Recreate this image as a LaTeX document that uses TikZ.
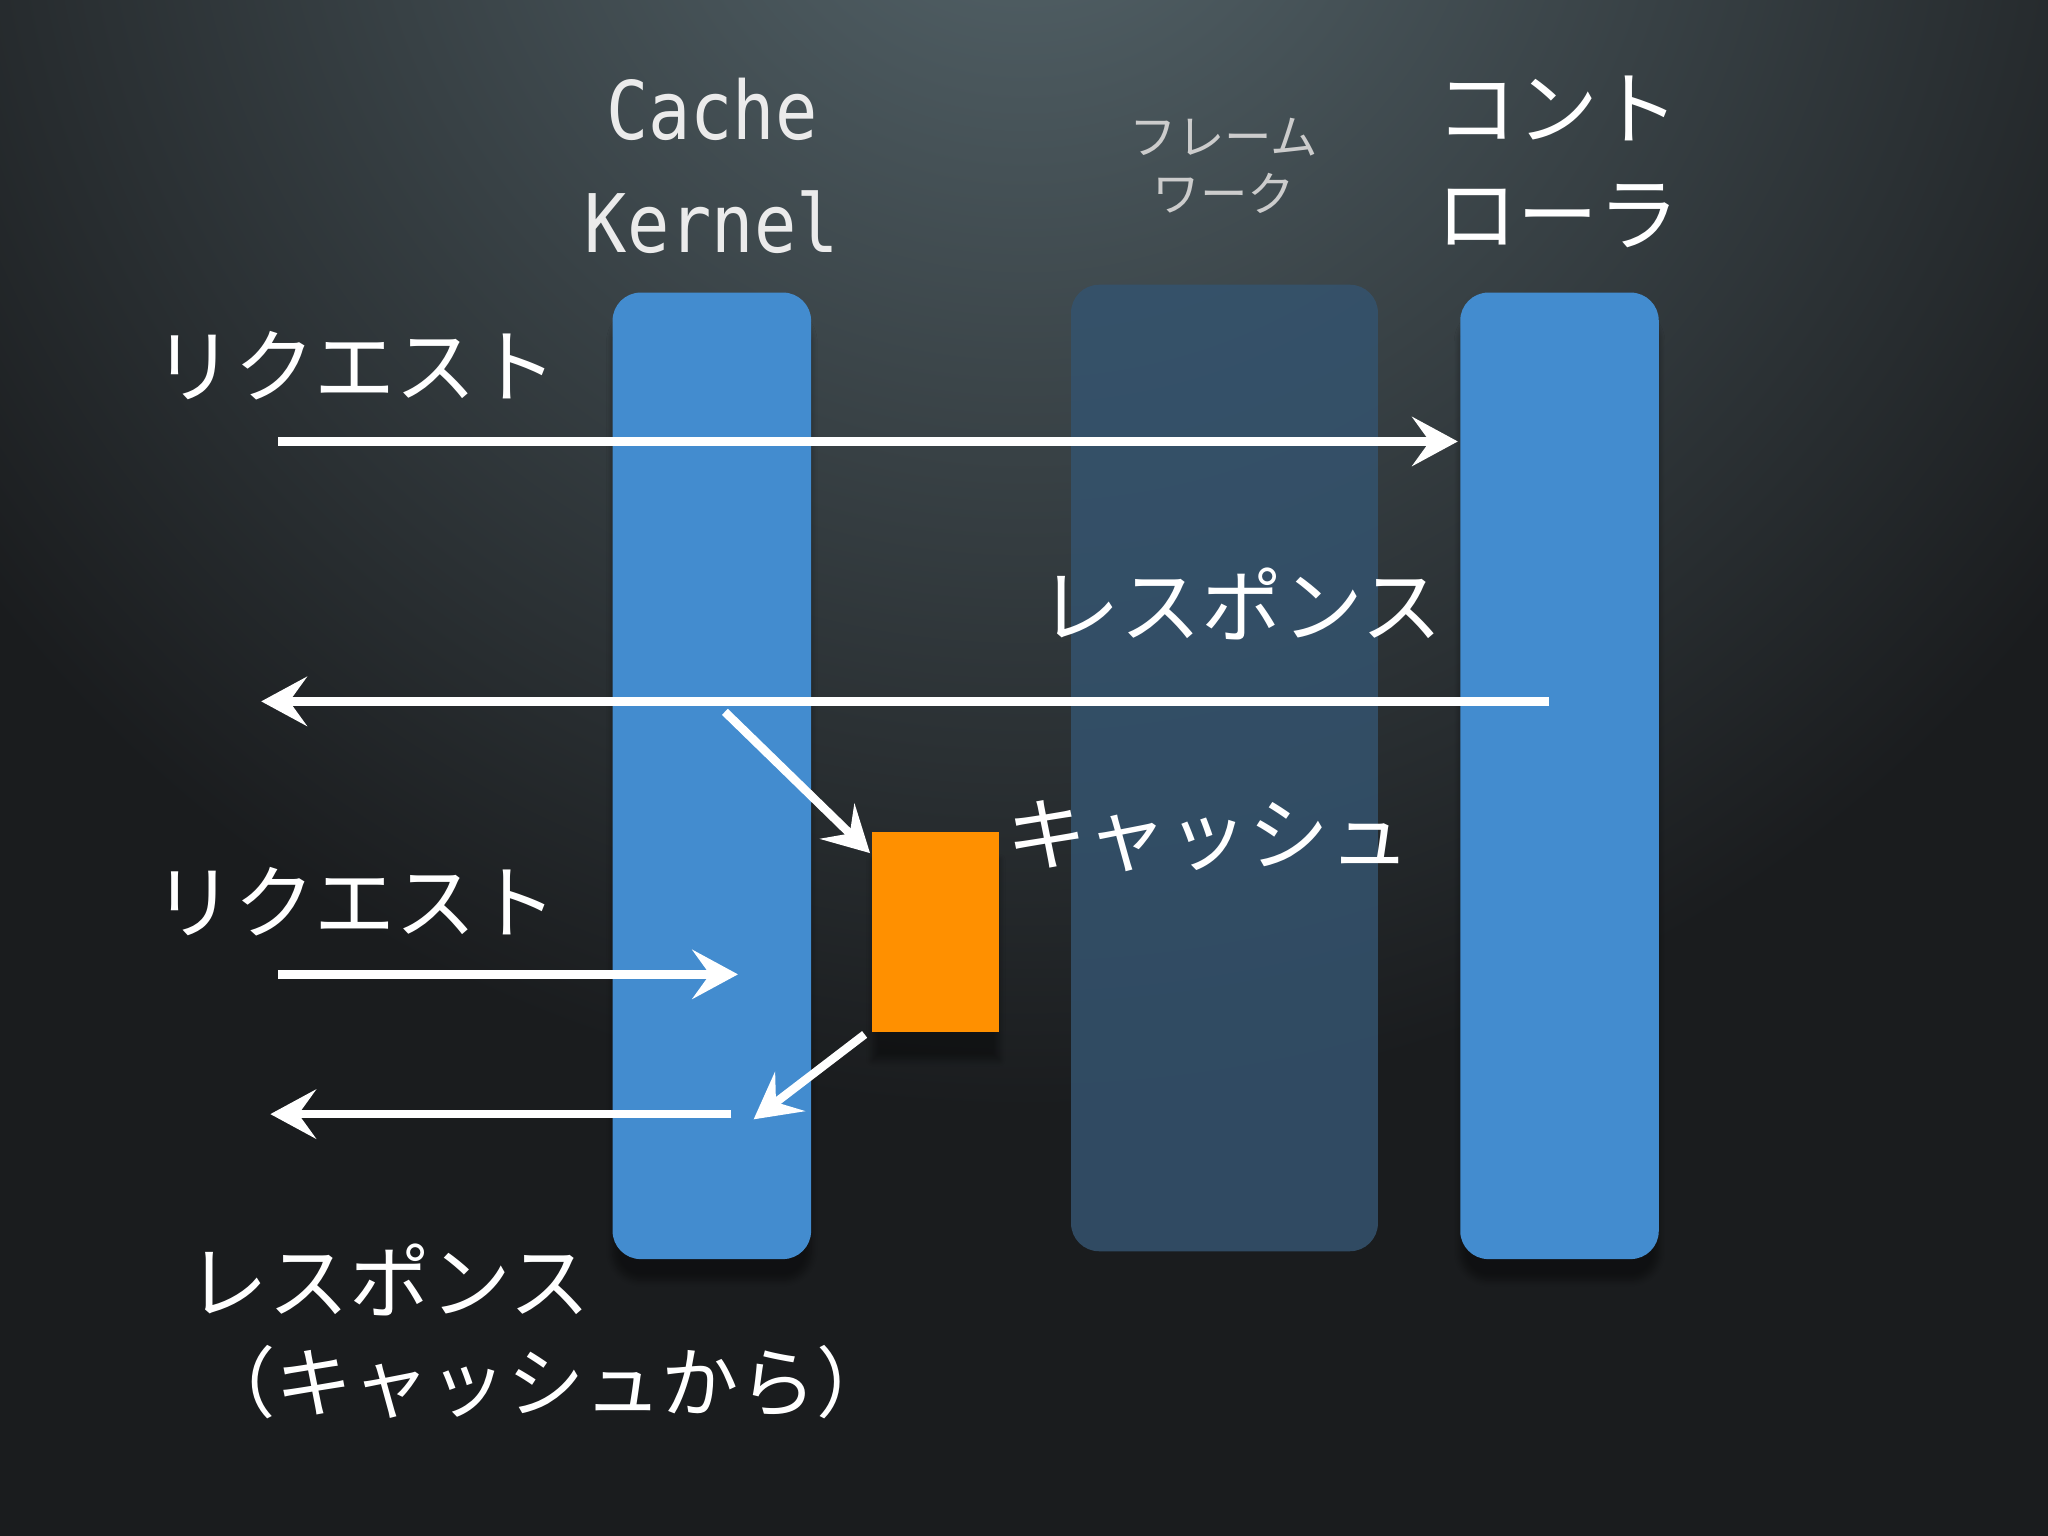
\documentclass[tikz,border=0pt]{standalone}
\usepackage{fontspec}
\newfontfamily\jp{Noto Sans CJK JP}
\newfontfamily\mono{DejaVu Sans Mono}
\usetikzlibrary{arrows.meta,shadows.blur}
\definecolor{bgdark}{HTML}{1A1C1E}
\definecolor{bglight}{HTML}{56666C}
\definecolor{colblue}{HTML}{438CCF}
\definecolor{fwblue}{HTML}{34536E}
\definecolor{orng}{HTML}{FF9000}
\begin{document}
\begin{tikzpicture}[x=0.01306cm,y=-0.01306cm,
  col/.style={fill=colblue,rounded corners=8pt,blur shadow={shadow blur steps=8,shadow xshift=0pt,shadow yshift=-6pt}},
  jl/.style={text=white,font=\jp\fontsize{23pt}{27pt}\selectfont,inner sep=0pt},
  arr/.style={draw=white,line width=2.4pt,-{Stealth[length=13pt,width=14pt,inset=5pt]}}]
\useasboundingbox (0,0) rectangle (1568,1176);
\fill[bgdark] (0,0) rectangle (1568,1176);
\shade[inner color=bglight,outer color=bgdark] (784,-150) ellipse [x radius=1000,y radius=1000];
% columns
\path[col] (469,224) rectangle (621,964);
\path (545,594) node[inner sep=0pt] (ck) {};
\fill[fwblue,fill opacity=0.85,rounded corners=8pt] (820,218) rectangle (1055,958);
\path (937,588) node[inner sep=0pt] (fw) {};
\path[col] (1118,224) rectangle (1270,964);
\path (1118,338) node[inner sep=0pt] (ct) {};
\path[fill=orng,blur shadow={shadow blur steps=8,shadow xshift=0pt,shadow yshift=-8pt}] (668,637) rectangle (765,790);
\path (668,655) node[inner sep=0pt] (cache) {};
% headings
\node[text=white!92!black,font=\mono\fontsize{20pt}{24pt}\selectfont,align=center,inner sep=0pt,yscale=1.15] (hck) at (545,127) {Cache\\[4pt]Kernel};
\node[text=white!80!black,font=\jp\fontsize{13.5pt}{16pt}\selectfont,align=center,inner sep=0pt] (hfw) at (937,127) {フレーム\\ワーク};
\node[jl,font=\jp\fontsize{23pt}{30pt}\selectfont,align=center] (hct) at (1193,124) {コント\\ローラ};
% labels
\node[jl] (rq1) at (272,280) {リクエスト};
\node[jl] (rs1) at (950,462) {レスポンス};
\node[jl] (cl) at (925,640) {キャッシュ};
\node[jl] (rq2) at (272,690) {リクエスト};
\node[jl] (rs2) at (298,980) {レスポンス};
\node[jl,font=\jp\fontsize{22pt}{26pt}\selectfont] (rs2b) at (418,1058) {（キャッシュから）};
% arrow coordinates
\coordinate (a1s) at (213,338);
\coordinate (a2s) at (1186,537); \coordinate (a2e) at (200,537);
\coordinate (a3s) at (555,545);
\coordinate (a4s) at (213,746); \coordinate (a4e) at (565,746);
\coordinate (a5s) at (662,792); \coordinate (a5e) at (577,857);
\coordinate (a6s) at (560,853); \coordinate (a6e) at (207,853);
\draw[arr] (a1s) -- (ct);
\draw[arr] (a2s) -- (a2e);
\draw[arr] (a3s) -- (cache);
\draw[arr] (a4s) -- (a4e);
\draw[arr] (a5s) -- (a5e);
\draw[arr] (a6s) -- (a6e);
\end{tikzpicture}
\end{document}
